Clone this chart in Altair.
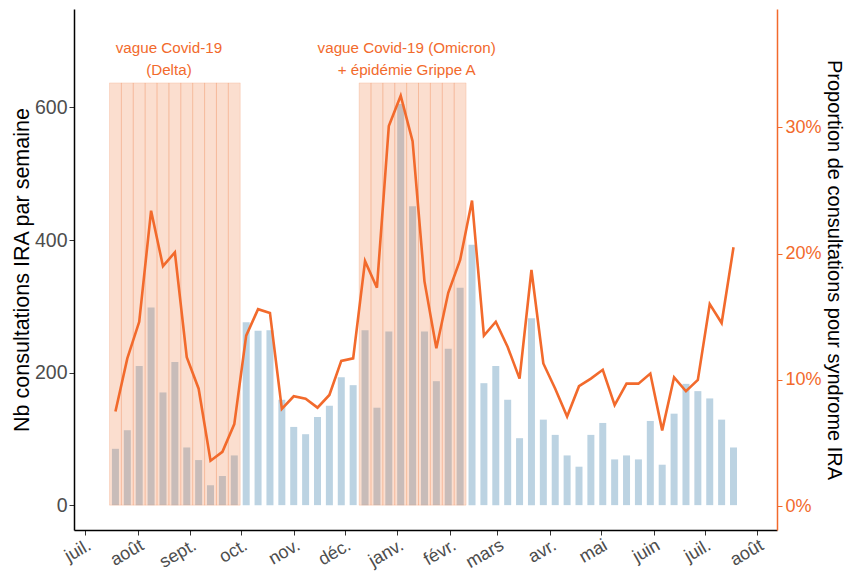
import altair as alt
import pandas as pd

# ---------------- data ----------------
first_monday = "2021-07-19"
nb_consultations = [85, 113, 210, 298, 170, 216, 87, 68, 30, 44, 75,
                    276, 263, 264, 159, 118, 107, 133, 150, 193, 181,
                    264, 147, 262, 605, 451, 262, 187, 236, 328,
                    393, 184, 210, 159, 101, 282, 129, 106, 75, 58, 106, 124,
                    69, 75, 69, 127, 61, 138, 183, 172, 161, 129, 87]
proportion_pct = [7.5, 11.7, 14.6, 23.4, 19.0, 20.1, 11.8, 9.3, 3.6, 4.3, 6.5,
                  13.5, 15.6, 15.3, 7.7, 8.7, 8.5, 7.8, 8.8, 11.5, 11.7,
                  19.4, 17.3, 30.1, 32.5, 28.9, 17.8, 12.5, 16.9, 19.5,
                  24.2, 13.5, 14.6, 12.6, 10.1, 18.7, 11.3, 9.3, 7.1, 9.5, 10.1, 10.8,
                  8.0, 9.7, 9.7, 10.5, 6.0, 10.2, 9.1, 10.0, 16.0, 14.5, 20.5]
period_first_weeks = ["2021-07-19", "2021-12-13"]
period_last_weeks = ["2021-09-27", "2022-02-07"]
period_labels = ["vague Covid-19\n(Delta)",
                 "vague Covid-19 (Omicron)\n+ épidémie Grippe A"]
month_labels_fr = ["janv.", "févr.", "mars", "avr.", "mai", "juin",
                   "juil.", "août", "sept.", "oct.", "nov.", "déc."]

SHADE_TOP = 637
LABEL_LEVEL = 690

# ---------------- tables ----------------
weeks = pd.date_range(first_monday, periods=len(nb_consultations), freq="7D")
df = pd.DataFrame({"semaine": weeks, "nb": nb_consultations,
                   "prop": [p / 100 for p in proportion_pct]})

half = pd.Timedelta(hours=84)
rows = []
for a, b in zip(period_first_weeks, period_last_weeks):
    for w in pd.date_range(a, b, freq="7D"):
        rows.append({"debut": w - half, "fin": w + half})
shade = pd.DataFrame(rows)

lab = pd.DataFrame({
    "xm": [pd.Timestamp(a) - half + (pd.Timestamp(b) - pd.Timestamp(a)) / 2
           for a, b in zip(period_first_weeks, period_last_weeks)],
    "label": period_labels,
})

# ---------------- scales / axes ----------------
ORANGE = "#F26A2C"
x_scale = alt.Scale(domain=[alt.DateTime(year=2021, month=6, date=27, hours=13),
                            alt.DateTime(year=2022, month=8, date=9, hours=16)],
                    nice=False)
yl_scale = alt.Scale(domain=[-37.5, 748.5], nice=False, zero=False)
yr_scale = alt.Scale(domain=[-0.0189, 0.3937], nice=False, zero=False)

month_expr = "[" + ",".join("'%s'" % m for m in month_labels_fr) + "][month(datum.value)]"

x_axis = alt.Axis(title=None, labelExpr=month_expr,
                  tickCount=alt.TimeIntervalStep(interval="month", step=1),
                  labelAngle=-30, labelAlign="right", labelBaseline="top",
                  labelOverlap=False, labelFlush=False,
                  labelFontSize=18, labelColor="#4D4D4D", labelPadding=1,
                  domainColor="#000000", tickColor="#333333", tickSize=5,
                  domainWidth=1.5)

YL_TITLE = "Nb consultations IRA par semaine"
yl_axis = alt.Axis(title=YL_TITLE, values=[0, 200, 400, 600],
                   labelFontSize=19.5, labelColor="#4D4D4D", labelPadding=2,
                   titleFontSize=21.5, titleColor="#000000", titleFontWeight="normal",
                   titlePadding=1,
                   domainColor="#000000", tickColor="#333333", tickSize=5,
                   domainWidth=1.5)

yr_axis = alt.Axis(title="Proportion de consultations pour syndrome IRA",
                   orient="right", values=[0, 0.1, 0.2, 0.3], format=".0%",
                   labelFontSize=18, labelColor=ORANGE, labelPadding=3,
                   titleFontSize=20, titleColor="#000000", titleFontWeight="normal",
                   titlePadding=2,
                   domainColor=ORANGE, tickColor=ORANGE, tickSize=5,
                   domainWidth=1.5)

# ---------------- marks ----------------
bars = alt.Chart(df).mark_bar(size=7, color="#BCD3E2").encode(
    x=alt.X("semaine:T", scale=x_scale, axis=x_axis, title=None),
    y=alt.Y("nb:Q", scale=yl_scale, axis=yl_axis, title=YL_TITLE),
)

rects = alt.Chart(shade).mark_rect(
    color="#EE7337", fillOpacity=0.24, stroke="#EE7337",
    strokeOpacity=0.18, strokeWidth=1
).encode(
    x=alt.X("debut:T", scale=x_scale, axis=x_axis, title=None),
    x2="fin:T",
    y=alt.YDatum(0, scale=yl_scale, axis=yl_axis, title=YL_TITLE),
    y2=alt.Y2Datum(SHADE_TOP),
)

texts = alt.Chart(lab).mark_text(
    lineBreak="\n", lineHeight=22, fontSize=15.2, color=ORANGE,
    font="Liberation Sans", align="center", baseline="middle"
).encode(
    x=alt.X("xm:T", scale=x_scale, axis=x_axis, title=None),
    y=alt.YDatum(LABEL_LEVEL, scale=yl_scale, axis=yl_axis, title=YL_TITLE),
    text="label:N",
)

line = alt.Chart(df).mark_line(color=ORANGE, strokeWidth=2.6).encode(
    x=alt.X("semaine:T", scale=x_scale, axis=x_axis, title=None),
    y=alt.Y("prop:Q", scale=yr_scale, axis=yr_axis),
)

left = alt.layer(bars, rects, texts)
chart = alt.layer(left, line).resolve_scale(y="independent").properties(
    width=703, height=521,
    padding={"left": 3, "top": 1, "right": 4, "bottom": 0},
).configure_view(stroke=None).configure_axis(
    grid=False, labelFont="Liberation Sans", titleFont="Liberation Sans"
)

chart.save("out.html", embed_options={"renderer": "svg", "actions": False})
